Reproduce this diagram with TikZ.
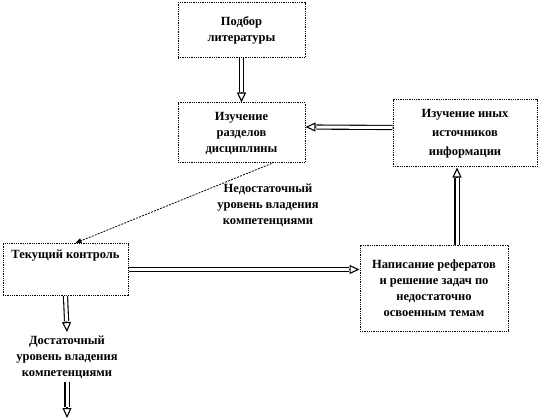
\documentclass[tikz,border=0pt]{standalone}
\usepackage{fontspec}
\setmainfont{Liberation Serif}
\usetikzlibrary{arrows.meta}

\newcommand\hollowlink[2]{%
  \draw[hollowhead] (#1) -- (#2);
  \draw[hollowshaft] (#1) -- (#2);}

\begin{document}
\begin{tikzpicture}[
  x=1pt, y=-1pt,
  font=\fontsize{12.5}{16}\selectfont\bfseries,
  box/.style={draw, dash pattern=on 1pt off 0.8pt, line width=1pt, align=center, inner sep=2pt},
  hollowhead/.style={line width=1.1pt, -{Triangle[open, width=9pt, length=10pt]}},
  hollowshaft/.style={double, double distance=3pt, line width=1.1pt, shorten >=10.8pt},
  thinlink/.style={dash pattern=on 2pt off 1.2pt, line width=0.8pt,
    -{Triangle[width=5pt, length=6pt]}},
  ]
  \useasboundingbox (0,0) rectangle (539,420);

  % boxes
  \node[box, minimum width=127pt, minimum height=55pt] (lit) at (241.5,30.5)
    {Подбор\\литературы};
  \node[box, minimum width=127pt, minimum height=60pt] (study) at (241.5,133)
    {Изучение\\разделов\\дисциплины};
  \node[box, minimum width=144pt, minimum height=67pt, font=\fontsize{12.5}{19}\selectfont\bfseries]
    (other) at (465,133.5) {Изучение иных\\источников\\информации};
  \node[box, minimum width=125pt, anchor=north, text height=9pt, text depth=31pt,
    inner ysep=6pt] (ctrl) at (65.5,243) {Текущий контроль};
  \node[box, minimum width=148pt, minimum height=86pt] (essay) at (434,288)
    {Написание рефератов\\и решение задач по\\недостаточно\\освоенным темам};

  % labels
  \node[align=center] (low) at (268,205)
    {Недостаточный\\уровень владения\\компетенциями};
  \node[align=center] (high) at (67,357)
    {Достаточный\\уровень владения\\компетенциями};
  \coordinate (out) at (67,418);

  % arrows
  \hollowlink{lit.south}{study.north}
  \hollowlink{[yshift=6pt]other.west}{[yshift=6pt]study.east}
  \hollowlink{[xshift=23pt]essay.north}{[xshift=23pt]essay.north |- other.south}
  \hollowlink{ctrl.east}{ctrl.east -| essay.west}
  \draw[thinlink] ([xshift=30pt]study.south) -- ([xshift=10pt]ctrl.north);
  \hollowlink{ctrl.south}{high.north}
  \hollowlink{high.south}{out}
\end{tikzpicture}
\end{document}
